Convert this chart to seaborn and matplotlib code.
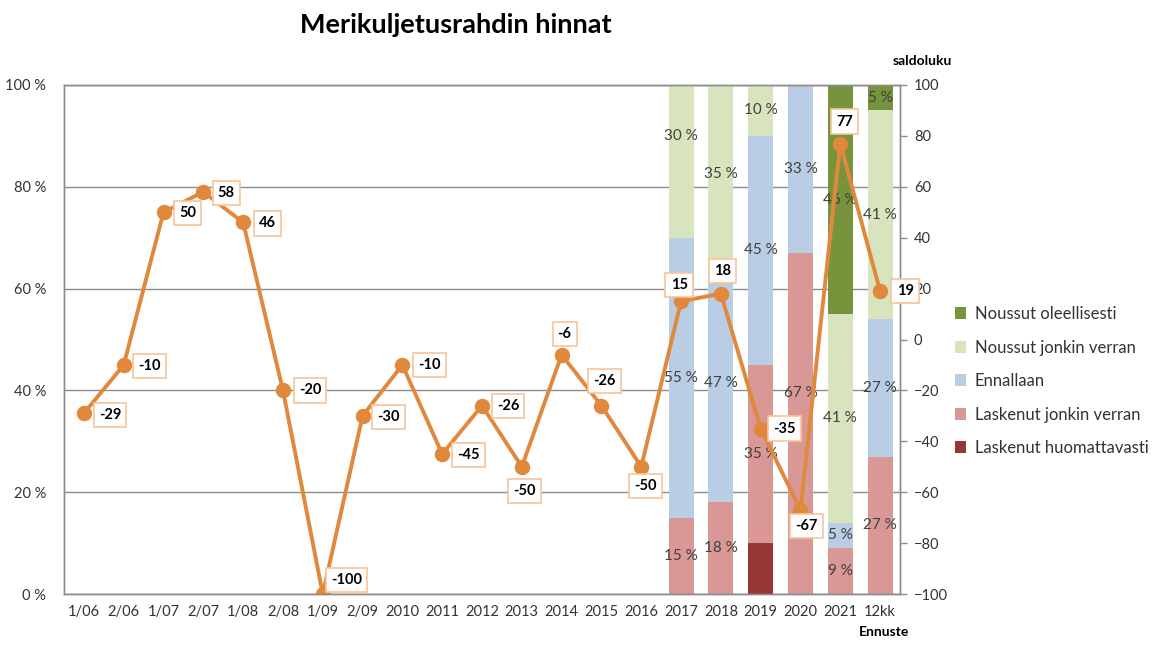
import numpy as np
import pandas as pd
import matplotlib
matplotlib.use("Agg")
import matplotlib.pyplot as plt
import seaborn as sns
from matplotlib.patches import Patch

# ---------------- data ----------------
categories = ["1/06", "2/06", "1/07", "2/07", "1/08", "2/08", "1/09", "2/09",
              "2010", "2011", "2012", "2013", "2014", "2015", "2016",
              "2017", "2018", "2019", "2020", "2021", "12kk"]
saldoluku = [-29, -10, 50, 58, 46, -20, -100, -30, -10, -45, -26, -50,
             -6, -26, -50, 15, 18, -35, -67, 77, 19]

bar_years = ["2017", "2018", "2019", "2020", "2021", "12kk"]
laskenut_huomattavasti = [0, 0, 10, 0, 0, 0]
laskenut_jonkin_verran = [15, 18, 35, 67, 9, 27]
ennallaan = [55, 47, 45, 33, 5, 27]
noussut_jonkin_verran = [30, 35, 10, 0, 41, 41]
noussut_oleellisesti = [0, 0, 0, 0, 46, 5]

series_names = ["Laskenut huomattavasti", "Laskenut jonkin verran", "Ennallaan",
                "Noussut jonkin verran", "Noussut oleellisesti"]
series_values = [laskenut_huomattavasti, laskenut_jonkin_verran, ennallaan,
                 noussut_jonkin_verran, noussut_oleellisesti]

# ---------------- style ----------------
series_colors = ["#953735", "#D99795", "#B9CDE5", "#D7E4BD", "#77933C"]
show_pct_labels = [False, True, True, True, True]
line_color = "#E0893C"
grid_color = "#8C8C8C"
text_color = "#333333"

# manual nudges (percentage points) for some segment labels: (series, year, dy)
pct_label_nudges = {(3, "2017"): 5, (1, "2020"): 6}

# label offsets (pixels) for the saldoluku data labels
label_offsets = [(26, -2), (26, -1), (24, -1), (23, -1), (24, -1), (27, 0),
                 (24, 14), (26, -1), (27, 0), (26, -1), (26, 0), (3, -24),
                 (3, 21), (3, 25), (4, -19), (-2, 16), (2, 23), (24, 0),
                 (6, -16), (4, 22), (25, 0)]

sns.set_style("white")
plt.rcParams["font.family"] = ["Lato", "DejaVu Sans"]

fig = plt.figure(figsize=(11.53, 6.48), dpi=100)
ax = fig.add_axes([64 / 1153, 54 / 648, 836 / 1153, 509 / 648])

# ---------------- stacked bars (cumulative, tallest first) ----------------
cum = np.cumsum(np.array(series_values, dtype=float), axis=0)
for i in range(len(series_names) - 1, -1, -1):
    df = pd.DataFrame({"cat": bar_years, "val": cum[i]})
    sns.barplot(data=df, x="cat", y="val", order=categories, color=series_colors[i],
                saturation=1, width=0.63, errorbar=None, ax=ax, linewidth=0)

# percentage labels centered in segments
for i, name in enumerate(series_names):
    if not show_pct_labels[i]:
        continue
    for j, yr in enumerate(bar_years):
        v = series_values[i][j]
        if v <= 0:
            continue
        top = min(cum[i][j], 100)
        bottom = cum[i][j] - v
        xpos = categories.index(yr)
        ypos = (top + bottom) / 2 + pct_label_nudges.get((i, yr), 0)
        ax.text(xpos, ypos, f"{v} %", ha="center", va="center",
                fontsize=11, color="#404040")

ax.set_ylim(0, 100)
ax.set_xlim(-0.5, len(categories) - 0.5)
ax.set_yticks([0, 20, 40, 60, 80, 100])
ax.set_yticklabels([f"{t} %" for t in [0, 20, 40, 60, 80, 100]])
ax.yaxis.grid(True, color=grid_color, lw=1)
ax.set_axisbelow(True)
ax.tick_params(axis="y", length=0, pad=13, labelsize=10.5, labelcolor=text_color)
ax.tick_params(axis="x", length=0, pad=8, labelsize=10.5, labelcolor=text_color)
ax.set_xlabel("")
ax.set_ylabel("")
for s in ax.spines.values():
    s.set_color(grid_color)
    s.set_linewidth(1)

# ---------------- saldoluku line ----------------
ax2 = ax.twinx()
sns.pointplot(x=categories, y=saldoluku, order=categories, color=line_color,
              markers="o", markersize=9, linewidth=2.8, errorbar=None, ax=ax2)
ax2.set_ylim(-100, 100)
ax2.set_xlim(-0.5, len(categories) - 0.5)
ax2.set_yticks(range(-100, 101, 20))
ax2.tick_params(axis="y", length=5, width=1, color=grid_color, pad=5,
                labelsize=10.5, labelcolor=text_color)
ax2.set_ylabel("")
for s in ax2.spines.values():
    s.set_color(grid_color)
    s.set_linewidth(1)

for k, (cat, val) in enumerate(zip(categories, saldoluku)):
    dx, dy = label_offsets[k]
    ax2.annotate(str(val), xy=(k, val), xytext=(dx, dy), textcoords="offset pixels",
                 ha="center", va="center", fontsize=10.5, fontweight="bold",
                 color="black",
                 bbox=dict(boxstyle="square,pad=0.35", fc="white", ec="#F9C49A", lw=1.2))

# ---------------- texts ----------------
fig.text(456 / 1153, 1 - 25 / 648, "Merikuljetusrahdin hinnat", ha="center", va="center",
         fontsize=19.5, fontweight="bold", color="black")
fig.text(922 / 1153, 1 - 61 / 648, "saldoluku", ha="center", va="center",
         fontsize=10, fontweight="bold", color="black")
fig.text(884 / 1153, 1 - 632 / 648, "Ennuste", ha="center", va="center",
         fontsize=10, fontweight="bold", color="black")

# ---------------- legend ----------------
handles = [Patch(facecolor=series_colors[i], edgecolor="none", label=series_names[i])
           for i in range(len(series_names) - 1, -1, -1)]
fig.legend(handles=handles, loc="center left", bbox_to_anchor=(0.815, 0.412),
           frameon=False, fontsize=12, handlelength=0.7, handleheight=0.7,
           handletextpad=0.5, labelspacing=1.05, labelcolor=text_color)

fig.savefig("out.png", dpi=100)
